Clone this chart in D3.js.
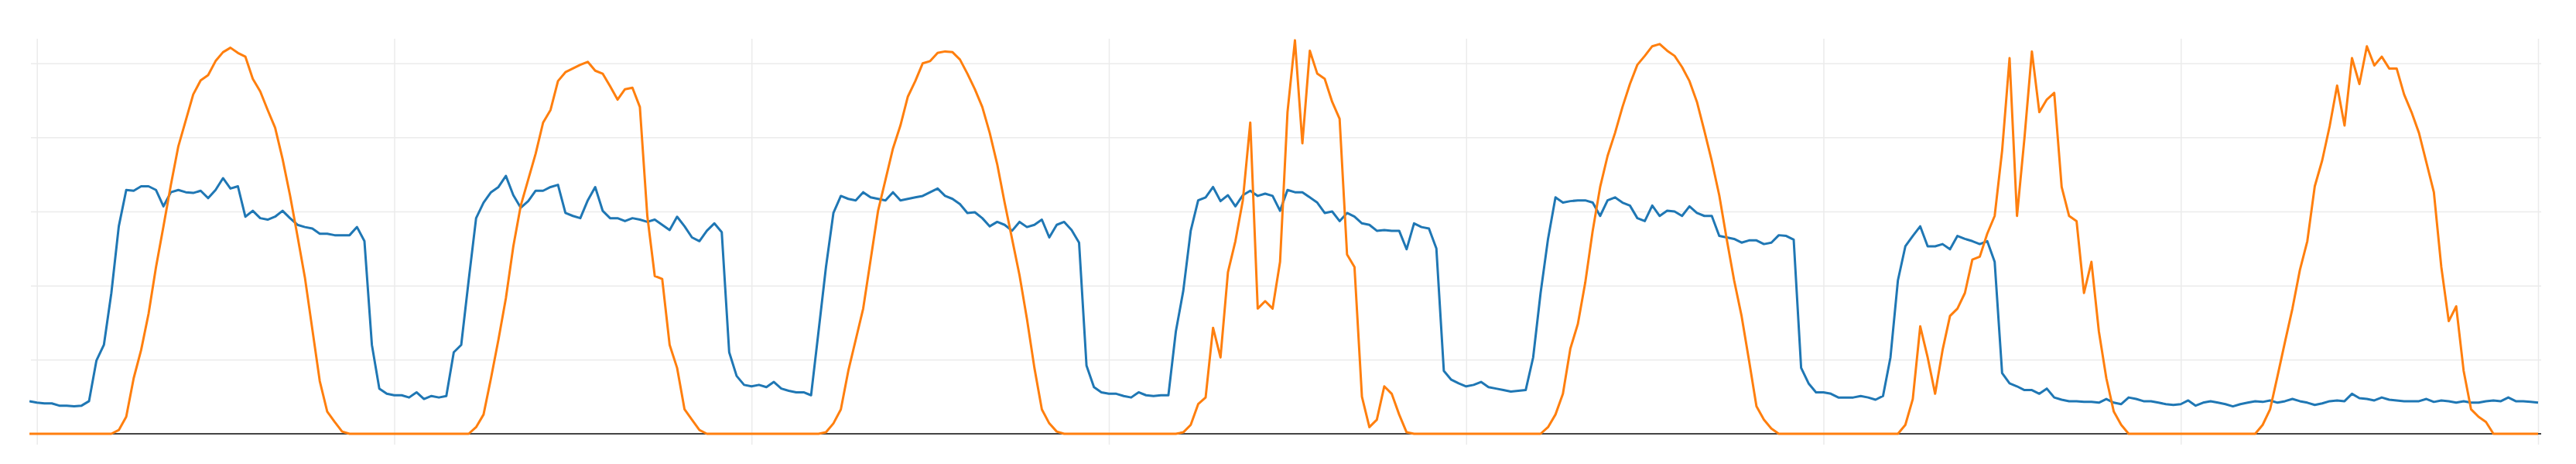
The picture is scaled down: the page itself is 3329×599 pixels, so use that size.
<!DOCTYPE html>
<html>
<head>
<meta charset="utf-8">
<script src="https://cdn.jsdelivr.net/npm/d3@7"></script>
<style>
  html, body { margin: 0; padding: 0; background: #fff; }
  svg { display: block; }
</style>
</head>
<body>
<svg id="chart" width="3329" height="599"></svg>
<script>
// ---- data (half-hourly samples, hours from start of first day) ----
const startHour = -0.5;
const stepHours = 0.5;
const dayTicks = [0, 24, 48, 72, 96, 120, 144, 168];
const valueTicks = [0, 1, 2, 3, 4, 5];

const seriesBlue = [
  0.44,
  // day 1
  0.42,0.41,0.41,0.38,0.38,0.37,0.38,0.44,0.99,1.2,1.9,2.8,3.29,3.28,3.34,3.34,3.29,3.07,3.26,3.29,3.26,3.25,3.28,3.18,
  3.29,3.45,3.31,3.34,2.93,3.01,2.91,2.89,2.93,3.01,2.91,2.82,2.79,2.77,2.70,2.70,2.68,2.68,2.68,2.79,2.6,1.2,0.61,0.54,
  // day 2
  0.52,0.52,0.49,0.56,0.47,0.51,0.49,0.51,1.1,1.2,2.07,2.91,3.12,3.26,3.33,3.48,3.22,3.05,3.14,3.28,3.28,3.33,3.36,2.98,
  2.94,2.91,3.15,3.33,3.01,2.91,2.91,2.87,2.91,2.89,2.86,2.89,2.82,2.75,2.93,2.8,2.65,2.6,2.74,2.84,2.72,1.1,0.78,0.66,
  // day 3
  0.64,0.66,0.63,0.70,0.61,0.58,0.56,0.56,0.52,1.38,2.25,2.98,3.21,3.17,3.15,3.26,3.19,3.17,3.15,3.26,3.15,3.17,3.19,3.21,
  3.26,3.31,3.21,3.17,3.10,2.98,2.99,2.91,2.80,2.86,2.82,2.74,2.86,2.79,2.82,2.89,2.65,2.82,2.86,2.75,2.58,0.92,0.63,0.56,
  // day 4
  0.54,0.54,0.51,0.49,0.56,0.52,0.51,0.52,0.52,1.38,1.93,2.74,3.15,3.19,3.33,3.14,3.22,3.07,3.22,3.28,3.21,3.24,3.21,3.01,
  3.29,3.26,3.26,3.19,3.12,2.98,3.0,2.87,2.98,2.93,2.84,2.82,2.74,2.75,2.74,2.74,2.49,2.84,2.79,2.77,2.5,0.85,0.73,0.68,
  // day 5
  0.64,0.66,0.70,0.63,0.61,0.59,0.57,0.58,0.59,1.03,1.9,2.63,3.19,3.12,3.14,3.15,3.15,3.12,2.94,3.15,3.19,3.12,3.08,2.91,
  2.87,3.08,2.94,3.01,3.0,2.94,3.07,2.98,2.94,2.94,2.67,2.65,2.63,2.58,2.61,2.61,2.56,2.58,2.68,2.67,2.62,0.89,0.68,0.56,
  // day 6
  0.56,0.54,0.49,0.49,0.49,0.51,0.49,0.46,0.51,1.03,2.07,2.53,2.67,2.8,2.53,2.53,2.56,2.49,2.67,2.63,2.6,2.56,2.6,2.32,
  0.82,0.68,0.64,0.59,0.59,0.54,0.61,0.49,0.46,0.44,0.44,0.43,0.43,0.42,0.47,0.42,0.4,0.49,0.47,0.44,0.44,0.42,0.4,0.39,
  // day 7
  0.4,0.45,0.38,0.42,0.44,0.42,0.4,0.37,0.4,0.42,0.44,0.43,0.45,0.42,0.44,0.47,0.44,0.42,0.39,0.41,0.44,0.45,0.44,0.54,
  0.48,0.47,0.45,0.49,0.46,0.45,0.44,0.44,0.44,0.47,0.43,0.45,0.44,0.42,0.44,0.42,0.42,0.44,0.45,0.44,0.49,0.44,0.44,0.43,
  0.42
];

const seriesOrange = [
  0,
  // day 1
  0,0,0,0,0,0,0,0,0,0,0,0.05,0.23,0.75,1.13,1.62,2.25,2.8,3.36,3.88,4.23,4.58,4.77,4.84,
  5.03,5.15,5.21,5.14,5.09,4.79,4.62,4.37,4.13,3.71,3.22,2.67,2.11,1.41,0.71,0.30,0.16,0.03,0,0,0,0,0,0,
  // day 2
  0,0,0,0,0,0,0,0,0,0,0,0.09,0.26,0.75,1.27,1.83,2.53,3.08,3.43,3.78,4.2,4.37,4.76,4.88,
  4.93,4.98,5.02,4.9,4.86,4.69,4.51,4.65,4.67,4.41,2.94,2.13,2.09,1.2,0.89,0.33,0.19,0.05,0,0,0,0,0,0,
  // day 3
  0,0,0,0,0,0,0,0,0,0,0.02,0.14,0.33,0.85,1.27,1.69,2.35,3.01,3.43,3.85,4.16,4.55,4.76,5.0,
  5.03,5.14,5.16,5.15,5.05,4.86,4.65,4.41,4.06,3.64,3.12,2.63,2.14,1.55,0.89,0.33,0.14,0.03,0,0,0,0,0,0,
  // day 4
  0,0,0,0,0,0,0,0,0,0,0.02,0.12,0.4,0.49,1.43,1.03,2.18,2.6,3.15,4.2,1.69,1.79,1.69,2.32,
  4.34,5.31,3.92,5.17,4.86,4.79,4.48,4.25,2.42,2.25,0.5,0.09,0.19,0.64,0.54,0.26,0.02,0,0,0,0,0,0,0,
  // day 5
  0,0,0,0,0,0,0,0,0,0,0,0.09,0.26,0.54,1.15,1.48,2.04,2.74,3.33,3.75,4.06,4.41,4.72,4.98,
  5.1,5.23,5.26,5.17,5.1,4.95,4.76,4.48,4.09,3.68,3.22,2.63,2.07,1.59,0.99,0.37,0.19,0.07,0,0,0,0,0,0,
  // day 6
  0,0,0,0,0,0,0,0,0,0,0,0.12,0.47,1.45,1.03,0.54,1.13,1.59,1.69,1.9,2.35,2.39,2.7,2.94,
  3.82,5.07,2.94,3.99,5.16,4.34,4.51,4.6,3.33,2.94,2.87,1.9,2.32,1.38,0.75,0.3,0.12,0,0,0,0,0,0,0,
  // day 7
  0,0,0,0,0,0,0,0,0,0,0,0.12,0.33,0.78,1.24,1.69,2.21,2.6,3.34,3.69,4.15,4.7,4.16,5.07,
  4.72,5.23,4.97,5.09,4.93,4.93,4.58,4.34,4.06,3.66,3.26,2.25,1.52,1.72,0.85,0.33,0.23,0.16,0,0,0,0,0,0,
  0
];

const seriesColors = ["#1f77b4", "#ff7f0e"];

// ---- layout ----
const svg = d3.select("#chart");
const plot = { left: 40, right: 3284, top: 50, bottom: 574 };

const x = d3.scaleLinear().domain([0, 168]).range([47.7, 3280]);
const y = d3.scaleLinear().domain([0, 5]).range([560, 81.7]);

svg.append("rect").attr("width", 3329).attr("height", 599).attr("fill", "#fff");

svg.append("defs").append("clipPath").attr("id", "clip")
  .append("rect")
  .attr("x", plot.left - 2).attr("y", plot.top)
  .attr("width", plot.right - plot.left + 4).attr("height", plot.bottom - plot.top);

// vertical grid (x axis ticks without labels)
const gx = svg.append("g")
  .attr("transform", `translate(0,${plot.bottom})`)
  .call(d3.axisBottom(x).tickValues(dayTicks).tickFormat("")
    .tickSizeInner(-(plot.bottom - plot.top)).tickSizeOuter(0));
gx.select(".domain").remove();
gx.selectAll(".tick line").attr("stroke", "#ebebeb").attr("stroke-width", 1.5);

// horizontal grid (y axis ticks without labels)
const gy = svg.append("g")
  .attr("transform", `translate(${plot.left},0)`)
  .call(d3.axisLeft(y).tickValues(valueTicks.filter(v => v > 0)).tickFormat("")
    .tickSizeInner(-(plot.right - plot.left)).tickSizeOuter(0));
gy.select(".domain").remove();
gy.selectAll(".tick line").attr("stroke", "#ebebeb").attr("stroke-width", 1.5);

// zero line
svg.append("line")
  .attr("x1", plot.left).attr("x2", plot.right)
  .attr("y1", y(0)).attr("y2", y(0))
  .attr("stroke", "#444").attr("stroke-width", 2);

const hourAt = i => startHour + i * stepHours;
const line = d3.line()
  .x((d, i) => x(hourAt(i)))
  .y(d => y(d));

const g = svg.append("g").attr("clip-path", "url(#clip)");
[seriesBlue, seriesOrange].forEach((s, k) => {
  g.append("path")
    .datum(s)
    .attr("fill", "none")
    .attr("stroke", seriesColors[k])
    .attr("stroke-width", 3)
    .attr("stroke-linejoin", "round")
    .attr("d", line);
});
</script>
</body>
</html>
